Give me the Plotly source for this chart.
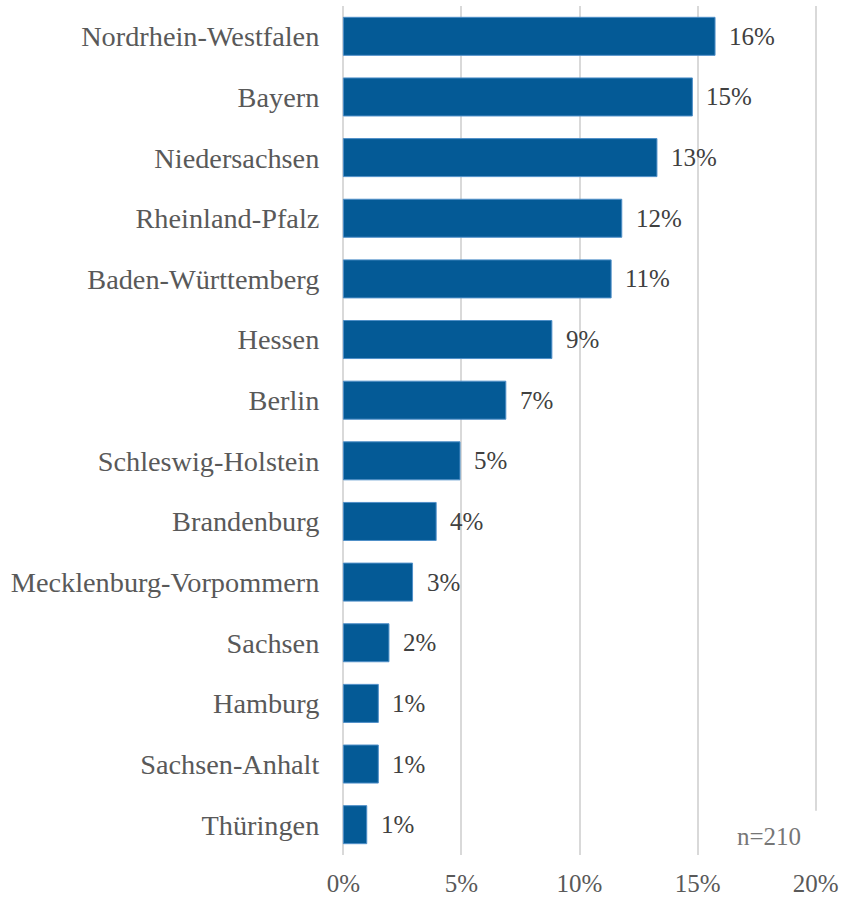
import plotly.graph_objects as go

# Share of respondents by federal state (n=210)
states = [
    "Nordrhein-Westfalen", "Bayern", "Niedersachsen", "Rheinland-Pfalz",
    "Baden-Württemberg", "Hessen", "Berlin", "Schleswig-Holstein",
    "Brandenburg", "Mecklenburg-Vorpommern", "Sachsen", "Hamburg",
    "Sachsen-Anhalt", "Thüringen",
]
shares = [0.1574, 0.1478, 0.1328, 0.1179, 0.1134, 0.0883, 0.0688,
          0.0494, 0.0393, 0.0293, 0.0193, 0.0148, 0.0148, 0.0099]
x_ticks = [0, 0.05, 0.10, 0.15, 0.20]
x_tick_text = ["0%", "5%", "10%", "15%", "20%"]
sample_note = "n=210"

FONT = "Liberation Serif"

fig = go.Figure(
    go.Bar(
        x=shares,
        y=states,
        orientation="h",
        marker=dict(color="#045A96", line=dict(color="#4F8FC8", width=1)),
        hoverinfo="skip",
    )
)

# value labels placed just right of each bar end
for s, v in zip(states, shares):
    fig.add_annotation(
        x=v, y=s, xref="x", yref="y",
        text=f"{v:.0%}", showarrow=False,
        xanchor="left", yanchor="middle", xshift=12,
        font=dict(family=FONT, size=25, color="#404040"),
    )

# white patch behind the sample-size note (cuts the right gridline)
fig.add_shape(
    type="rect", xref="x", yref="paper",
    x0=0.193, x1=0.207, y0=-0.01, y1=0.052,
    fillcolor="white", line=dict(width=0), layer="above",
)
fig.add_annotation(
    x=0.1803, y=0.022, xref="x", yref="paper",
    text=sample_note, showarrow=False,
    xanchor="center", yanchor="middle",
    font=dict(family=FONT, size=25, color="#767676"),
)

fig.update_layout(
    width=843, height=897,
    margin=dict(l=341, r=25, t=6, b=42),
    paper_bgcolor="white", plot_bgcolor="white",
    bargap=0.373,
    showlegend=False,
    xaxis=dict(
        range=[-0.001, 0.201], tickvals=x_ticks, ticktext=x_tick_text,
        showgrid=True, gridcolor="#D9D9D9", gridwidth=2,
        zeroline=False, showline=False, automargin=False,
        ticks="outside", ticklen=6, tickcolor="rgba(0,0,0,0)",
        tickfont=dict(family=FONT, size=25, color="#595959"),
        fixedrange=True,
    ),
    yaxis=dict(
        autorange="reversed", showgrid=False, zeroline=False, showline=False,
        automargin=False,
        ticks="outside", ticklen=15, tickcolor="rgba(0,0,0,0)",
        tickfont=dict(family=FONT, size=28.3, color="#595959"),
        fixedrange=True,
    ),
)

fig.write_html("out.html")
